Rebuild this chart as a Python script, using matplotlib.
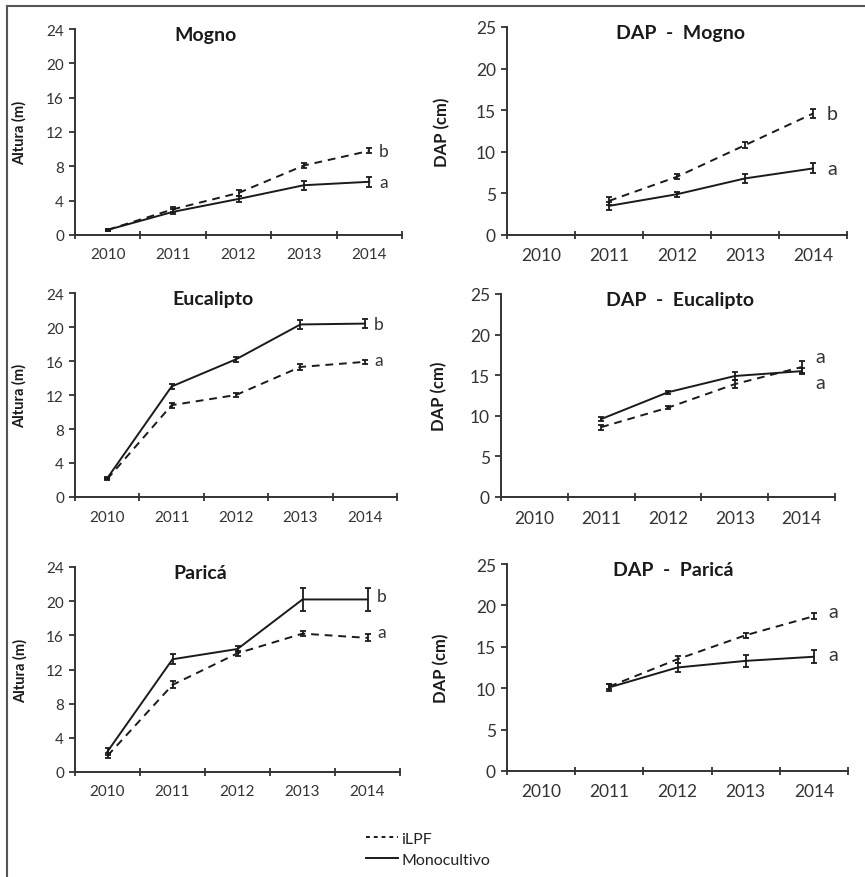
import matplotlib
matplotlib.use("Agg")
import matplotlib.pyplot as plt
from matplotlib.lines import Line2D

plt.rcParams['font.family'] = ['Lato', 'DejaVu Sans']

# Data
years = ['2010', '2011', '2012', '2013', '2014']

# Altura (m)
mogno_alt_ilpf = [0.6, 3.0, 4.9, 8.1, 9.8]
mogno_alt_ilpf_err = [0.15, 0.3, 0.3, 0.3, 0.3]
mogno_alt_mono = [0.6, 2.7, 4.2, 5.8, 6.2]
mogno_alt_mono_err = [0.1, 0.3, 0.4, 0.5, 0.6]

euca_alt_ilpf = [2.1, 10.8, 12.0, 15.3, 15.9]
euca_alt_ilpf_err = [0.1, 0.3, 0.2, 0.3, 0.2]
euca_alt_mono = [2.2, 13.0, 16.2, 20.3, 20.4]
euca_alt_mono_err = [0.1, 0.3, 0.3, 0.5, 0.5]

parica_alt_ilpf = [1.9, 10.2, 13.9, 16.2, 15.7]
parica_alt_ilpf_err = [0.3, 0.4, 0.3, 0.3, 0.4]
parica_alt_mono = [2.4, 13.2, 14.4, 20.2, 20.2]
parica_alt_mono_err = [0.4, 0.6, 0.4, 1.3, 1.3]

# DAP (cm), measured from 2011
dap_years = ['2011', '2012', '2013', '2014']
mogno_dap_ilpf = [4.1, 7.0, 10.8, 14.6]
mogno_dap_ilpf_err = [0.5, 0.3, 0.4, 0.5]
mogno_dap_mono = [3.5, 4.9, 6.8, 8.0]
mogno_dap_mono_err = [0.5, 0.3, 0.5, 0.6]

euca_dap_ilpf = [8.6, 11.0, 13.9, 16.0]
euca_dap_ilpf_err = [0.3, 0.2, 0.5, 0.7]
euca_dap_mono = [9.6, 12.9, 14.9, 15.5]
euca_dap_mono_err = [0.3, 0.2, 0.5, 0.4]

parica_dap_ilpf = [10.2, 13.5, 16.4, 18.7]
parica_dap_ilpf_err = [0.3, 0.4, 0.3, 0.4]
parica_dap_mono = [10.1, 12.5, 13.3, 13.8]
parica_dap_mono_err = [0.4, 0.6, 0.7, 0.8]

# significance letters: (text, y)
mogno_alt_letters = [('b', 9.8), ('a', 6.2)]
euca_alt_letters = [('b', 20.4), ('a', 16.1)]
parica_alt_letters = [('b', 20.6), ('a', 16.4)]
mogno_dap_letters = [('b', 14.6), ('a', 8.0)]
euca_dap_letters = [('a', 17.3), ('a', 14.1)]
parica_dap_letters = [('a', 19.3), ('a', 14.1)]

W, H = 865, 878
fig = plt.figure(figsize=(W / 100, H / 100), dpi=100)

# border lines (top and left only)
fig.add_artist(Line2D([7 / W, 1], [1 - 7 / H, 1 - 7 / H], color='#555555', lw=1.5))
fig.add_artist(Line2D([7 / W, 7 / W], [0, 1 - 7 / H], color='#555555', lw=1.5))

line_col = '#1a1a1a'
txt_col = '#333333'


def make_ax(x0, x1, ytop, ybot):
    return fig.add_axes([x0 / W, 1 - ybot / H, (x1 - x0) / W, (ybot - ytop) / H])


def panel(ax, xlab_years, ilpf, ilpf_err, mono, mono_err, letters, title, tx, ylabel,
          ymax, ystep, fs, tfs, lfs, labx, letx):
    xs = [years.index(y) for y in xlab_years]
    ax.errorbar(xs, ilpf, yerr=ilpf_err, color=line_col, lw=1.4, ls=(0, (4, 3)),
                elinewidth=1.3, capsize=2.5, capthick=1.3)
    ax.errorbar(xs, mono, yerr=mono_err, color=line_col, lw=1.4, ls='-',
                elinewidth=1.3, capsize=2.5, capthick=1.3)
    ax.set_xlim(-0.5, 4.5)
    ax.set_ylim(0, ymax)
    ax.set_yticks(range(0, ymax + 1, ystep))
    ax.set_xticks([i - 0.5 for i in range(6)])
    ax.set_xticklabels([])
    ax.set_xticks(range(5), minor=True)
    ax.set_xticklabels(years, minor=True)
    ax.tick_params(axis='x', which='major', direction='inout', length=6, width=1.3,
                   color='#333333')
    ax.tick_params(axis='x', which='minor', length=0, pad=9, labelsize=fs,
                   labelcolor=txt_col)
    ax.tick_params(axis='y', direction='out', length=4, width=1.3, color='#333333',
                   labelsize=fs, labelcolor=txt_col, pad=4)
    for s in ['top', 'right']:
        ax.spines[s].set_visible(False)
    for s in ['left', 'bottom']:
        ax.spines[s].set_linewidth(1.4)
        ax.spines[s].set_color('#333333')
    ax.text(tx, 0.975, title, transform=ax.transAxes, ha='center', va='center',
            fontsize=tfs, fontweight='bold', color='#1a1a1a')
    ax.set_ylabel(ylabel, fontsize=lfs, fontweight='bold', color='#1a1a1a')
    ax.yaxis.set_label_coords(labx, 0.5)
    for t, y in letters:
        ax.text(letx, y, t, ha='center', va='center', fontsize=fs + 1.5, color=txt_col)


ax1 = make_ax(75, 402, 30, 236)
panel(ax1, years, mogno_alt_ilpf, mogno_alt_ilpf_err, mogno_alt_mono, mogno_alt_mono_err,
      mogno_alt_letters, 'Mogno', 0.40, 'Altura (m)', 24, 4, 11, 14, 10.5, -0.147, 4.22)

ax2 = make_ax(507, 847, 28, 236)
panel(ax2, dap_years, mogno_dap_ilpf, mogno_dap_ilpf_err, mogno_dap_mono, mogno_dap_mono_err,
      mogno_dap_letters, 'DAP  -  Mogno', 0.51, 'DAP (cm)', 25, 5, 12.5, 14, 12, -0.168, 4.28)

ax3 = make_ax(75, 397, 294, 498)
panel(ax3, years, euca_alt_ilpf, euca_alt_ilpf_err, euca_alt_mono, euca_alt_mono_err,
      euca_alt_letters, 'Eucalipto', 0.43, 'Altura (m)', 24, 4, 11, 14, 10.5, -0.149, 4.22)

ax4 = make_ax(501, 835, 295, 498)
panel(ax4, dap_years, euca_dap_ilpf, euca_dap_ilpf_err, euca_dap_mono, euca_dap_mono_err,
      euca_dap_letters, 'DAP  -  Eucalipto', 0.536, 'DAP (cm)', 25, 5, 12.5, 14, 12, -0.16, 4.28)

ax5 = make_ax(75, 400, 568, 773)
panel(ax5, years, parica_alt_ilpf, parica_alt_ilpf_err, parica_alt_mono, parica_alt_mono_err,
      parica_alt_letters, 'Paricá', 0.385, 'Altura (m)', 24, 4, 11, 14, 10.5, -0.147, 4.22)

ax6 = make_ax(507, 848, 565, 772)
panel(ax6, dap_years, parica_dap_ilpf, parica_dap_ilpf_err, parica_dap_mono, parica_dap_mono_err,
      parica_dap_letters, 'DAP  -  Paricá', 0.487, 'DAP (cm)', 25, 5, 12.5, 14, 12, -0.168, 4.28)

# legend
handles = [Line2D([], [], color=line_col, lw=1.4, ls=(0, (2, 2))),
           Line2D([], [], color=line_col, lw=1.4, ls='-')]
fig.legend(handles, ['iLPF', 'Monocultivo'], loc='upper left',
           bbox_to_anchor=(360 / W, 1 - 826 / H), frameon=False, fontsize=11.5,
           handlelength=2.0, handletextpad=0.2, labelspacing=0.45,
           labelcolor='#222222', borderaxespad=0)

fig.savefig('out.png', dpi=100)
